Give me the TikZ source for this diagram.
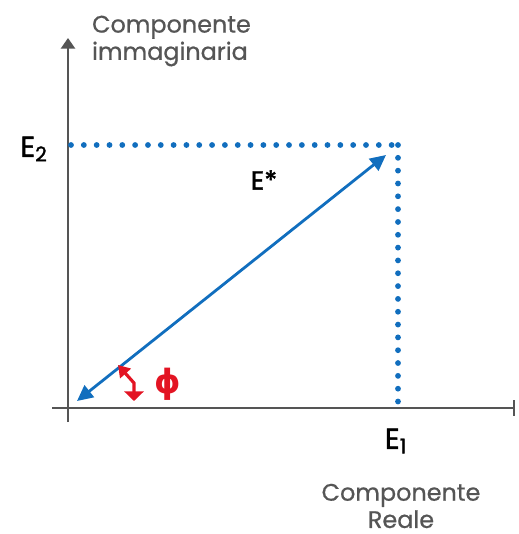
\documentclass[tikz,border=0pt]{standalone}
\usepackage{fontspec}
\setmainfont{Poppins}
\newfontfamily\medfont{Poppins}[FakeBold=1.6]
\newfontfamily\graytextfont{Poppins}[FakeBold=0.7]
\newfontfamily\greekfont{DejaVu Sans}
\usetikzlibrary{arrows.meta}
\definecolor{vecblue}{RGB}{17,110,190}
\definecolor{anglered}{RGB}{227,20,35}
\definecolor{axisgray}{RGB}{85,85,85}
\tikzset{
	axis/.style = {draw = axisgray, line width = 1.1pt},
	vec/.style = {draw = vecblue, line width = 1.6pt, {Triangle[length=9pt,width=8.5pt]}-{Triangle[length=9pt,width=8.5pt]}},
	proj/.style = {draw = vecblue, line width = 3.3pt, line cap = round, dash pattern = on 0pt off 7.3pt},
	axislabel/.style = {text = axisgray, inner sep = 1pt, font = \graytextfont\fontsize{13.6}{15.5}\selectfont},
	complabel/.style = {font = \medfont\fontsize{16.5}{18}\selectfont}
}
\begin{document}
\begin{tikzpicture} [x = 0.02cm, y = -0.02cm]
	\useasboundingbox (0,0) rectangle (518,534);
	% axes
	\coordinate (xstart) at (52,408);
	\coordinate (xend) at (515,408);
	\coordinate (ystart) at (68,422);
	\coordinate (yend) at (68,38);
	\draw [axis, -{Bar[width=9pt]}] (xstart) -- (xend);
	\draw [axis, -{Triangle[length=6pt,width=8pt]}] (ystart) -- (yend);
	% components
	\coordinate (e2) at (71,145);
	\coordinate (corner) at (398,145);
	\coordinate (e1) at (398,403);
	\draw [proj] (e2) -- (corner);
	\draw [proj] (corner) -- (e1);
	% vector
	\coordinate (tail) at (77,401);
	\coordinate (head) at (386,155);
	\draw [vec] (tail) -- (head);
	% angle
	\coordinate (phia) at (118,365);
	\coordinate (phib) at (134,383);
	\coordinate (phic) at (134,401);
	\draw [anglered, line width = 1.8pt, {Triangle[length=6.5pt,width=8pt]}-{Triangle[length=5.5pt,width=11pt]}] (phia) -- (phib) -- (phic);
	\node (phi) [text = anglered, font = \greekfont\bfseries\fontsize{19}{21}\selectfont] at (168,384) {ϕ};
	% labels
	\node (lbl2) [complabel] at (34,149) {E\textsubscript{2}};
	\node (lbl1) [complabel] at (396,441) {E\textsubscript{1}};
	\node (lblv) [font = \medfont\fontsize{15}{17}\selectfont] at (264,180) {E*};
	\node (imlabel) [axislabel, align = left, anchor = west] at (90,41) {Componente\\immaginaria};
	\node (relabel) [axislabel, align = center] at (401,506) {Componente\\Reale};
\end{tikzpicture}
\end{document}
